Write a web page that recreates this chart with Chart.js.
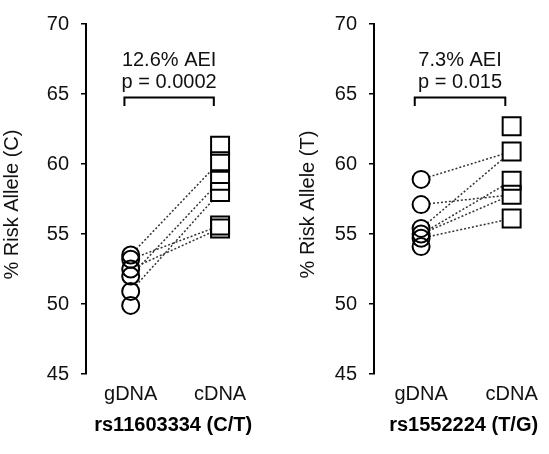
<!DOCTYPE html>
<html>
<head>
<meta charset="utf-8">
<script src="https://cdn.jsdelivr.net/npm/chart.js@4.4.0/dist/chart.umd.min.js"></script>
<style>
  html, body { margin: 0; padding: 0; background: #fff; overflow: hidden; }
  .panel { position: absolute; top: 0; }
</style>
</head>
<body>
<div class="panel" style="left:0"><canvas id="chartC" width="275" height="454"></canvas></div>
<div class="panel" style="left:275px"><canvas id="chartT" width="293" height="454"></canvas></div>
<script>
const groups = ['gDNA', 'cDNA'];
const yTicks = [45, 50, 55, 60, 65, 70];

// rs11603334 (C/T)
const gdnaC = [53.5, 53.2, 52.5, 52.0, 50.9, 49.9];
const cdnaC = [61.3, 60.2, 58.8, 58.0, 55.6, 55.4];
const linksC = [[0, 1], [1, 4], [2, 5], [3, 2], [4, 3]];

// rs1552224 (T/G)
const gdnaT = [58.9, 57.1, 55.4, 55.0, 54.7, 54.1];
const cdnaT = [62.7, 60.9, 58.8, 57.8, 56.1];
const linksT = [[0, 1], [1, 3], [2, 1], [3, 2], [3, 3], [4, 4]];

const aeiLabels = ['12.6% AEI', '7.3% AEI'];
const pLabels = ['p = 0.0002', 'p = 0.015'];
const xTitles = ['rs11603334 (C/T)', 'rs1552224 (T/G)'];
const yTitles = ['% Risk Allele (C)  ', '% Risk Allele (T)  '];

const FONT = "'Liberation Sans', Arial, sans-serif";

const bracketPlugin = {
  id: 'bracket',
  afterDatasetsDraw(chart, args, opts) {
    const { ctx, scales: { x, y } } = chart;
    const x1 = x.getPixelForValue(0.93);
    const x2 = x.getPixelForValue(1.93);
    const yBar = y.getPixelForValue(64.75);
    const yLeg = y.getPixelForValue(64.15);
    ctx.save();
    ctx.strokeStyle = '#000';
    ctx.lineWidth = 2;
    ctx.beginPath();
    ctx.moveTo(x1, yLeg);
    ctx.lineTo(x1, yBar);
    ctx.lineTo(x2, yBar);
    ctx.lineTo(x2, yLeg);
    ctx.stroke();
    ctx.fillStyle = '#111';
    ctx.font = '20px ' + FONT;
    ctx.textAlign = 'center';
    ctx.textBaseline = 'middle';
    const cx = (x1 + x2) / 2;
    ctx.fillText(opts.aei, cx, y.getPixelForValue(67.4));
    ctx.fillText(opts.p, cx, y.getPixelForValue(65.8));
    ctx.restore();
  }
};

function makeChart(id, gdna, cdna, links, idx, axisWidth, xMin, xMax, yTitlePad) {
  const datasets = [];
  links.forEach(([g, c]) => {
    datasets.push({
      type: 'line',
      data: [{ x: 1, y: gdna[g] }, { x: 2, y: cdna[c] }],
      borderColor: '#333',
      borderWidth: 1.5,
      borderDash: [2, 2],
      pointRadius: 0,
      order: 3
    });
  });
  const markers = [
    { data: gdna.map(v => ({ x: 1, y: v })), style: 'circle', r: 8.5 },
    { data: cdna.map(v => ({ x: 2, y: v })), style: 'rect', r: 12.7 }
  ];
  markers.forEach(m => {
    // white fill under the outlines so lines stop at the marker edge
    datasets.push({
      type: 'scatter', data: m.data, pointStyle: m.style, pointRadius: m.r,
      backgroundColor: '#fff', borderColor: 'rgba(0,0,0,0)', borderWidth: 0, order: 2
    });
    datasets.push({
      type: 'scatter', data: m.data, pointStyle: m.style, pointRadius: m.r,
      backgroundColor: 'rgba(0,0,0,0)', borderColor: '#000', borderWidth: 2, order: 1
    });
  });

  return new Chart(document.getElementById(id), {
    type: 'scatter',
    data: { datasets },
    options: {
      responsive: false,
      animation: false,
      layout: { padding: { top: 23, left: 0, right: 0, bottom: 0 } },
      plugins: {
        legend: { display: false },
        tooltip: { enabled: false },
        bracket: { aei: aeiLabels[idx], p: pLabels[idx] }
      },
      scales: {
        x: {
          type: 'linear',
          min: xMin,
          max: xMax,
          border: { display: false },
          grid: { display: false, drawTicks: false },
          afterBuildTicks: s => { s.ticks = [{ value: 1 }, { value: 2 }]; },
          afterFit: s => { s.height = 80; },
          ticks: {
            padding: 8,
            color: '#111',
            font: { size: 20, family: FONT },
            callback: v => groups[v - 1]
          },
          title: {
            display: true,
            text: xTitles[idx],
            color: '#000',
            font: { size: 20, weight: 'bold', family: FONT },
            padding: { top: 0, bottom: 17 }
          }
        },
        y: {
          min: yTicks[0],
          max: yTicks[yTicks.length - 1],
          afterBuildTicks: s => { s.ticks = yTicks.map(v => ({ value: v })); },
          afterFit: s => { s.width = axisWidth; },
          border: { display: true, color: '#000', width: 2 },
          grid: { drawOnChartArea: false, drawTicks: true, tickLength: 5, color: '#000', lineWidth: 1.5 },
          ticks: {
            padding: 12,
            color: '#111',
            font: { size: 20, family: FONT }
          },
          title: {
            display: true,
            text: yTitles[idx],
            color: '#111',
            font: { size: 20, family: FONT },
            padding: { top: yTitlePad, bottom: 0 }
          }
        }
      }
    },
    plugins: [bracketPlugin]
  });
}

makeChart('chartC', gdnaC, cdnaC, linksC, 0, 86, 0.5, 2.45, 0);
makeChart('chartT', gdnaT, cdnaT, linksT, 1, 99, 0.48, 2.46, 21);
</script>
</body>
</html>
